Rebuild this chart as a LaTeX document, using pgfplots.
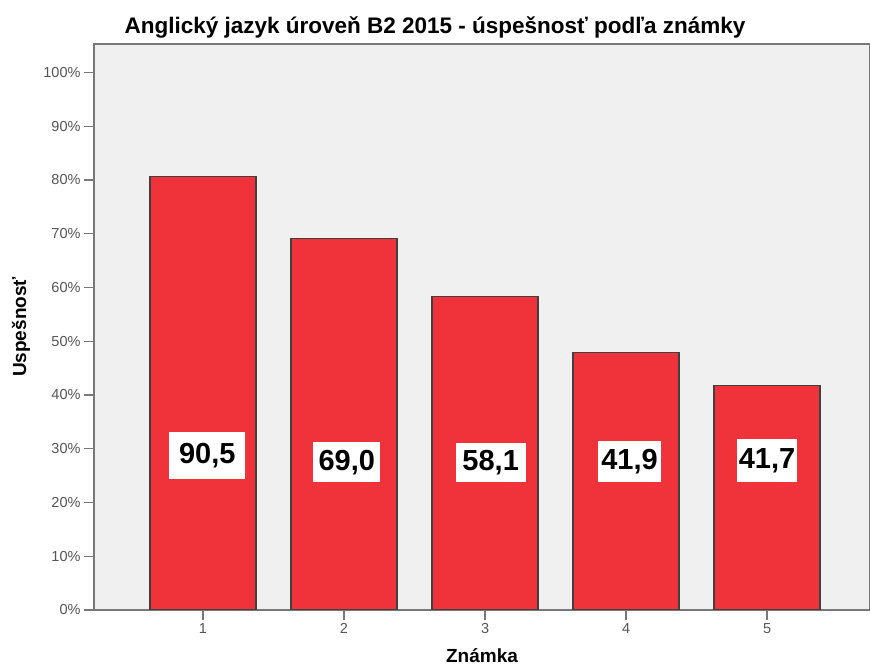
\documentclass[border=0pt]{standalone}
\usepackage{fontspec}
\setmainfont{Liberation Sans}
\usepackage{pgfplots}
\pgfplotsset{compat=1.18}
\definecolor{barred}{RGB}{240,50,58}
\definecolor{plotbg}{RGB}{240,240,240}
\definecolor{framegray}{RGB}{120,120,120}
\definecolor{ticktext}{RGB}{85,85,85}
\begin{document}
\begin{tikzpicture}
\useasboundingbox (-94pt,-58pt) rectangle (776pt,610pt);
\begin{axis}[
  at={(0pt,0pt)}, anchor=south west,
  scale only axis, width=776pt, height=566pt,
  xmin=0.227, xmax=5.73, ymin=0, ymax=105.3,
  axis background/.style={fill=plotbg},
  axis line style={framegray, line width=1.5pt},
  xtick={1,...,5}, ytick={0,10,...,100},
  tick pos=left, tick align=outside, major tick length=10pt,
  tick style={framegray, line width=1.2pt},
  yticklabel={\pgfmathprintnumber{\tick}\%},
  /pgf/number format/assume math mode=true,
  ticklabel style={font=\fontsize{14.5}{14.5}\selectfont, text=ticktext},
  title={Anglický jazyk úroveň B2 2015 - úspešnosť podľa známky},
  title style={font=\bfseries\fontsize{22.5}{22.5}\selectfont, at={(rel axis cs:0.4394,1)}, anchor=base, yshift=4pt},
  xlabel={Známka},
  xlabel style={font=\bfseries\fontsize{19}{19}\selectfont, at={(rel axis cs:0.5,0)}, anchor=base, yshift=-53pt},
  ylabel={Uspešnosť},
  ylabel style={font=\bfseries\fontsize{19}{19}\selectfont, at={(rel axis cs:0,0.5)}, anchor=center, yshift=73pt},
]
\addplot[ybar, bar width=106pt, fill=barred, draw=black!75, line width=1.2pt]
  coordinates {(1,80.7)(2,69.1)(3,58.3)(4,47.9)(5,41.7)};
\begin{scope}[every node/.style={fill=white, inner sep=0pt, font=\bfseries\fontsize{29}{29}\selectfont}]
\node[minimum width=76pt, minimum height=47pt] at (axis cs:1.03,28.7) {90,5};
\node[minimum width=67pt, minimum height=40pt] at (axis cs:2.02,27.5) {69,0};
\node[minimum width=70pt, minimum height=39pt] at (axis cs:3.04,27.4) {58,1};
\node[minimum width=63pt, minimum height=41pt] at (axis cs:4.025,27.6) {41,9};
\node[minimum width=60pt, minimum height=43pt] at (axis cs:5.0,27.8) {41,7};
\end{scope}
\end{axis}
\end{tikzpicture}
\end{document}
